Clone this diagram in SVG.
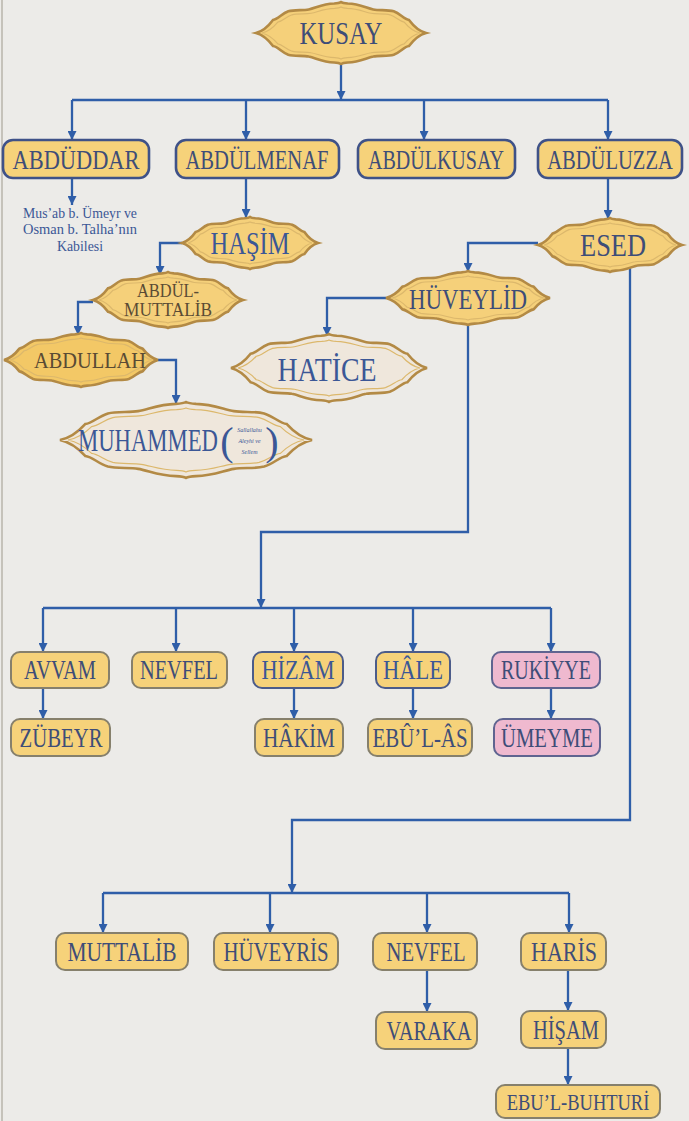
<svg xmlns="http://www.w3.org/2000/svg" xmlns:xlink="http://www.w3.org/1999/xlink" width="689" height="1121" viewBox="0 0 689 1121">
<style>
.bg{fill:#ecebe8}
.box{fill:#f6d27a;stroke:#3f5288;stroke-width:2.6}
.boxg{fill:#f6d27a;stroke:#86806c;stroke-width:2}
.boxb{fill:#f6d27a;stroke:#4c5c8a;stroke-width:2}
.pink{fill:#efb9cf;stroke:#5f6490;stroke-width:2}
.orn{fill:#f5d07a;stroke:#b38a45;stroke-width:2.6}
.ornc{fill:#efe7dc;stroke:#b38a45;stroke-width:2.6}
.inner{fill:none;stroke:#dcb86c;stroke-width:1.2}
.t{font-family:"Liberation Serif","DejaVu Serif",serif;text-anchor:middle;fill:#3e4d78}
.tb{fill:#3b5796}
.tbr{fill:#5a4b34}
.c{fill:none;stroke:#2f5ea8;stroke-width:2.3}
.a{marker-end:url(#ah)}
</style>
<defs>
<marker id="ah" viewBox="0 0 10 10" refX="10" refY="5" markerWidth="10" markerHeight="9" orient="auto" markerUnits="userSpaceOnUse">
<path d="M0,0 L10,5 L0,10 z" fill="#2f5ea8"/>
</marker>
<path id="o" vector-effect="non-scaling-stroke" d="M-1,0 C-0.93,-0.05 -0.86,-0.2 -0.8,-0.42 C-0.74,-0.44 -0.7,-0.62 -0.62,-0.7 C-0.55,-0.76 -0.45,-0.72 -0.38,-0.76 C-0.3,-0.8 -0.22,-0.94 -0.08,-0.95 Q-0.02,-0.96 0,-1 Q0.02,-0.96 0.08,-0.95 C0.22,-0.94 0.3,-0.8 0.38,-0.76 C0.45,-0.72 0.55,-0.76 0.62,-0.7 C0.7,-0.62 0.74,-0.44 0.8,-0.42 C0.86,-0.2 0.93,-0.05 1,0 C0.93,0.05 0.86,0.2 0.8,0.42 C0.74,0.44 0.7,0.62 0.62,0.7 C0.55,0.76 0.45,0.72 0.38,0.76 C0.3,0.8 0.22,0.94 0.08,0.95 Q0.02,0.96 0,1 Q-0.02,0.96 -0.08,0.95 C-0.22,0.94 -0.3,0.8 -0.38,0.76 C-0.45,0.72 -0.55,0.76 -0.62,0.7 C-0.7,0.62 -0.74,0.44 -0.8,0.42 C-0.86,0.2 -0.93,0.05 -1,0 Z"/>
</defs>
<rect class="bg" x="0" y="0" width="689" height="1121"/>
<line x1="2" y1="0" x2="2" y2="1121" stroke="#b9b5ab" stroke-width="1.5"/>

<g id="connectors">
<path class="c a" d="M341,64 V100"/>
<path class="c" d="M72,100 H608"/>
<path class="c a" d="M72,100 V140"/>
<path class="c a" d="M246,100 V140"/>
<path class="c a" d="M424,100 V140"/>
<path class="c a" d="M608,100 V140"/>
<path class="c a" d="M72,178 V205"/>
<path class="c a" d="M246,178 V218"/>
<path class="c a" d="M608,178 V219"/>
<path class="c a" d="M538,243 H468 V272"/>
<path class="c a" d="M182,243 H160 V275"/>
<path class="c a" d="M93,302 H78 V335"/>
<path class="c a" d="M158,360 H176 V404"/>
<path class="c a" d="M386,298 H327 V336"/>
<path class="c a" d="M468,325 V532 H261 V608"/>
<path class="c" d="M43,608 H551"/>
<path class="c a" d="M43,608 V652"/>
<path class="c a" d="M176,608 V652"/>
<path class="c a" d="M294,608 V652"/>
<path class="c a" d="M413,608 V652"/>
<path class="c a" d="M551,608 V652"/>
<path class="c a" d="M43,688 V719"/>
<path class="c a" d="M294,688 V719"/>
<path class="c a" d="M413,688 V719"/>
<path class="c a" d="M551,688 V719"/>
<path class="c a" d="M630,266 V820 H292 V893"/>
<path class="c" d="M103,893 H569"/>
<path class="c a" d="M103,893 V933"/>
<path class="c a" d="M270,893 V933"/>
<path class="c a" d="M427,893 V933"/>
<path class="c a" d="M569,893 V933"/>
<path class="c a" d="M427,970 V1012"/>
<path class="c a" d="M568,970 V1011"/>
<path class="c a" d="M568,1048 V1085"/>
</g>

<g id="kusay">
<use xlink:href="#o" class="orn" transform="translate(341,33) scale(85,31)"/>
<use xlink:href="#o" class="inner" transform="translate(341,33) scale(79,26)"/>
<text class="t" x="341" y="44" font-size="31" textLength="83" lengthAdjust="spacingAndGlyphs">KUSAY</text>
</g>

<g id="abduddar">
<rect class="box" x="3" y="140" width="146" height="38" rx="10"/>
<text class="t" transform="translate(76,169) scale(0.8,1)" font-size="28">ABDÜDDAR</text>
</g>
<g id="abdulmenaf">
<rect class="box" x="176" y="140" width="163" height="38" rx="10"/>
<text class="t" x="257" y="169" font-size="28" textLength="143" lengthAdjust="spacingAndGlyphs">ABDÜLMENAF</text>
</g>
<g id="abdulkusay">
<rect class="box" x="358" y="140" width="157" height="38" rx="10"/>
<text class="t" x="436" y="169" font-size="28" textLength="136" lengthAdjust="spacingAndGlyphs">ABDÜLKUSAY</text>
</g>
<g id="abduluzza">
<rect class="box" x="538" y="140" width="144" height="38" rx="10"/>
<text class="t" transform="translate(610,169) scale(0.735,1)" font-size="28">ABDÜLUZZA</text>
</g>

<g id="kabile">
<text class="t tb" x="80" y="218" font-size="14" textLength="114" lengthAdjust="spacingAndGlyphs">Mus’ab b. Ümeyr ve</text>
<text class="t tb" x="80" y="234" font-size="14" textLength="114" lengthAdjust="spacingAndGlyphs">Osman b. Talha’nın</text>
<text class="t tb" x="80" y="251" font-size="14" textLength="46" lengthAdjust="spacingAndGlyphs">Kabilesi</text>
</g>

<g id="hasim">
<use xlink:href="#o" class="orn" transform="translate(250,243) scale(68,26)"/>
<use xlink:href="#o" class="inner" transform="translate(250,243) scale(62,21)"/>
<text class="t tb" x="250" y="254" font-size="31" textLength="79" lengthAdjust="spacingAndGlyphs">HAŞİM</text>
</g>
<g id="esed">
<use xlink:href="#o" class="orn" transform="translate(610,245) scale(72,27)"/>
<use xlink:href="#o" class="inner" transform="translate(610,245) scale(66,22)"/>
<text class="t" x="613" y="256" font-size="31" textLength="66" lengthAdjust="spacingAndGlyphs">ESED</text>
</g>
<g id="huveylid">
<use xlink:href="#o" class="orn" transform="translate(468,298) scale(82,27)"/>
<use xlink:href="#o" class="inner" transform="translate(468,298) scale(76,22)"/>
<text class="t" x="468" y="309" font-size="30" textLength="118" lengthAdjust="spacingAndGlyphs">HÜVEYLİD</text>
</g>
<g id="abdulmuttalib">
<use xlink:href="#o" class="orn" transform="translate(168,300) scale(75,28)"/>
<use xlink:href="#o" class="inner" transform="translate(168,300) scale(69,23)"/>
<text class="t tbr" x="168" y="297" font-size="18" textLength="62" lengthAdjust="spacingAndGlyphs">ABDÜL-</text>
<text class="t tbr" x="168" y="316" font-size="18" textLength="88" lengthAdjust="spacingAndGlyphs">MUTTALİB</text>
</g>
<g id="abdullah">
<use xlink:href="#o" class="orn" transform="translate(81,360) scale(77,27)" style="fill:#f3c866"/>
<use xlink:href="#o" class="inner" transform="translate(81,360) scale(71,22)"/>
<text class="t tbr" x="90" y="368" font-size="23" textLength="112" lengthAdjust="spacingAndGlyphs">ABDULLAH</text>
</g>
<g id="hatice">
<use xlink:href="#o" class="ornc" transform="translate(329,368) scale(98,34)"/>
<use xlink:href="#o" class="inner" transform="translate(329,368) scale(91,28)"/>
<text class="t tb" x="327" y="381" font-size="33" textLength="99" lengthAdjust="spacingAndGlyphs">HATİCE</text>
</g>
<g id="muhammed">
<use xlink:href="#o" class="ornc" transform="translate(186,440) scale(126,38)"/>
<use xlink:href="#o" class="inner" transform="translate(186,440) scale(118,32)"/>
<text class="t tb" transform="translate(148,451) scale(0.733,1)" font-size="31">MUHAMMED</text>
<text class="t tb" x="227" y="455" font-size="40">(</text>
<text class="t tb" x="272" y="455" font-size="40">)</text>
<text class="t tb" x="249.5" y="432" font-size="6" font-style="italic">Sallallahu</text>
<text class="t tb" x="249.5" y="443" font-size="6" font-style="italic">Aleyhi ve</text>
<text class="t tb" x="249.5" y="454" font-size="6" font-style="italic">Sellem</text>
</g>

<g id="avvam">
<rect class="boxg" x="11" y="652" width="98" height="36" rx="9"/>
<text class="t" x="60" y="679" font-size="27" textLength="72" lengthAdjust="spacingAndGlyphs">AVVAM</text>
</g>
<g id="nevfel1">
<rect class="boxg" x="132" y="652" width="95" height="36" rx="9"/>
<text class="t" x="179" y="679" font-size="27" textLength="78" lengthAdjust="spacingAndGlyphs">NEVFEL</text>
</g>
<g id="hizam">
<rect class="boxb" x="253" y="652" width="90" height="36" rx="9"/>
<text class="t tb" x="298" y="679" font-size="27" textLength="73" lengthAdjust="spacingAndGlyphs">HİZÂM</text>
</g>
<g id="hale">
<rect class="boxb" x="376" y="652" width="74" height="36" rx="9"/>
<text class="t tb" x="413" y="679" font-size="27" textLength="60" lengthAdjust="spacingAndGlyphs">HÂLE</text>
</g>
<g id="rukiyye">
<rect class="pink" x="492" y="652" width="108" height="36" rx="9"/>
<text class="t" x="546" y="679" font-size="27" textLength="90" lengthAdjust="spacingAndGlyphs">RUKİYYE</text>
</g>
<g id="zubeyr">
<rect class="boxg" x="11" y="719" width="99" height="37" rx="9"/>
<text class="t" x="61" y="747" font-size="27" textLength="83" lengthAdjust="spacingAndGlyphs">ZÜBEYR</text>
</g>
<g id="hakim">
<rect class="boxg" x="255" y="719" width="88" height="37" rx="9"/>
<text class="t" x="299" y="747" font-size="27" textLength="72" lengthAdjust="spacingAndGlyphs">HÂKİM</text>
</g>
<g id="ebulas">
<rect class="boxg" x="368" y="719" width="104" height="37" rx="9"/>
<text class="t" x="420" y="747" font-size="27" textLength="95" lengthAdjust="spacingAndGlyphs">EBÛ’L-ÂS</text>
</g>
<g id="umeyme">
<rect class="pink" x="494" y="719" width="106" height="37" rx="9"/>
<text class="t" x="547" y="747" font-size="27" textLength="92" lengthAdjust="spacingAndGlyphs">ÜMEYME</text>
</g>

<g id="muttalib">
<rect class="boxg" x="56" y="933" width="132" height="37" rx="9"/>
<text class="t" x="122" y="961" font-size="27" textLength="109" lengthAdjust="spacingAndGlyphs">MUTTALİB</text>
</g>
<g id="huveyris">
<rect class="boxg" x="214" y="933" width="124" height="37" rx="9"/>
<text class="t" x="276" y="961" font-size="27" textLength="105" lengthAdjust="spacingAndGlyphs">HÜVEYRİS</text>
</g>
<g id="nevfel2">
<rect class="boxg" x="373" y="933" width="104" height="37" rx="9"/>
<text class="t" x="426" y="961" font-size="27" textLength="79" lengthAdjust="spacingAndGlyphs">NEVFEL</text>
</g>
<g id="haris">
<rect class="boxg" x="521" y="933" width="85" height="37" rx="9"/>
<text class="t" x="564" y="961" font-size="27" textLength="66" lengthAdjust="spacingAndGlyphs">HARİS</text>
</g>
<g id="varaka">
<rect class="boxg" x="376" y="1012" width="101" height="37" rx="9"/>
<text class="t" x="429" y="1040" font-size="27" textLength="85" lengthAdjust="spacingAndGlyphs">VARAKA</text>
</g>
<g id="hisam">
<rect class="boxg" x="521" y="1011" width="85" height="37" rx="9"/>
<text class="t" x="566" y="1039" font-size="27" textLength="66" lengthAdjust="spacingAndGlyphs">HİŞAM</text>
</g>
<g id="ebulbuhturi">
<rect class="boxg" x="496" y="1085" width="164" height="33" rx="9"/>
<text class="t" transform="translate(578,1110) scale(0.77,1)" font-size="24">EBU’L-BUHTURİ</text>
</g>
</svg>
